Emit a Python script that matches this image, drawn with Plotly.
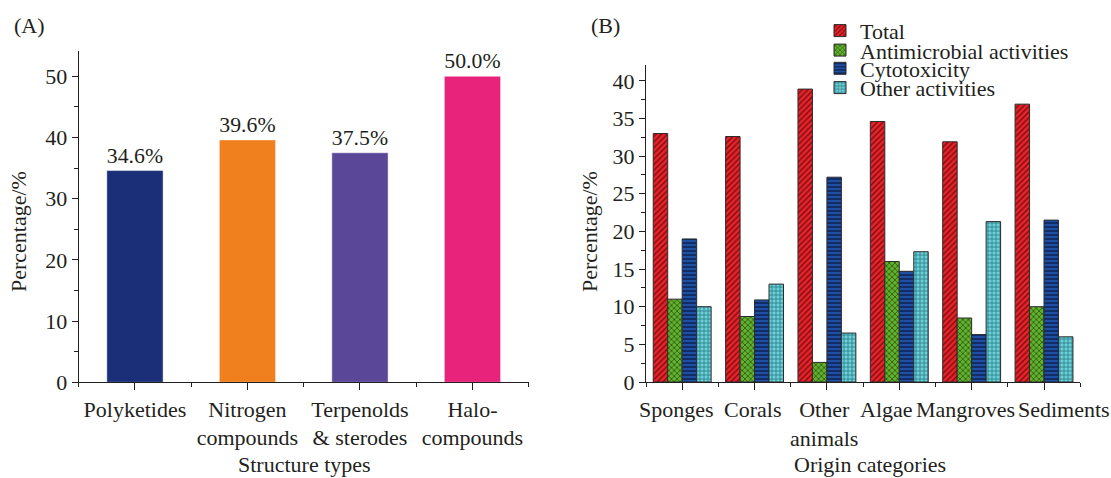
import plotly.graph_objects as go

# ---------------- data ----------------
categories_A = ["Polyketides", "Nitrogen<br>compounds", "Terpenolds<br>& sterodes", "Halo-<br>compounds"]
values_A = [34.6, 39.6, 37.5, 50.0]
colors_A = ["#1b2e78", "#f07f1e", "#5b4798", "#e8237b"]

categories_B = ["Sponges", "Corals", "Other<br>animals", "Algae", "Mangroves", "Sediments"]
total_B = [33.0, 32.6, 38.9, 34.6, 31.9, 36.9]
antimicrobial_B = [11.0, 8.7, 2.6, 16.0, 8.5, 10.0]
cytotoxicity_B = [19.0, 10.9, 27.2, 14.7, 6.3, 21.5]
other_B = [10.0, 13.0, 6.5, 17.3, 21.3, 6.0]

yticks_A = [0, 10, 20, 30, 40, 50]
yticks_B = [0, 5, 10, 15, 20, 25, 30, 35, 40]

# ---------------- style ----------------
INK = "#231f20"
FONT = "Liberation Serif"
FS = 22
W, H = 1111, 478
label_shift_B = [-6, -2, -3, -13, -6, 20]  # px nudges of category labels (as in the original)


def fx(p):
    return p / W


def fy(p):
    return 1 - p / H


xA = list(range(len(categories_A)))
xB = list(range(len(categories_B)))

fig = go.Figure()

fig.add_trace(go.Bar(
    x=xA, y=values_A, width=0.5, xaxis="x", yaxis="y",
    marker=dict(color=colors_A, line=dict(color="rgba(255,255,255,0.45)", width=1)),
    text=[f"{v:.1f}%" for v in values_A], textposition="outside",
    textfont=dict(family=FONT, size=FS, color=INK), cliponaxis=False,
    showlegend=False,
))

series_B = [
    ("Total", total_B, "#e8232a", "#7a0d10", "/", "legend"),
    ("Antimicrobial activities", antimicrobial_B, "#62b22f", "#24500c", "x", "legend2"),
    ("Cytotoxicity", cytotoxicity_B, "#1f4fa3", "#0b1d4d", "-", "legend3"),
    ("Other activities", other_B, "#6dd0d8", "#247a84", "+", "legend4"),
]
for name, vals, bg, fg, shape, leg in series_B:
    fig.add_trace(go.Bar(
        x=xB, y=vals, name=name, xaxis="x2", yaxis="y2", legend=leg,
        marker=dict(color=bg, line=dict(color="#2b2b2b", width=1),
                    pattern=dict(shape=shape, fgcolor=fg, bgcolor=bg,
                                 size=4, solidity=0.35, fillmode="replace")),
    ))

axis_common = dict(showline=True, linecolor=INK, linewidth=1.3, showgrid=False,
                   zeroline=False, ticks="outside", tickcolor=INK, tickwidth=1.3,
                   tickfont=dict(family=FONT, size=FS, color=INK))

fig.update_layout(
    width=W, height=H,
    margin=dict(l=0, r=0, t=0, b=0),
    paper_bgcolor="white", plot_bgcolor="white",
    template="none",
    font=dict(family=FONT, size=FS, color=INK),
    barmode="group", bargap=0.2, bargroupgap=0,
    xaxis=dict(domain=[fx(78.7), fx(528.7)], range=[-0.5, len(categories_A) - 0.5],
               tickmode="array", tickvals=xA, ticktext=categories_A, ticklen=7, tickangle=0,
               minor=dict(tickmode="array", tickvals=[i - 0.5 for i in range(len(categories_A) + 1)],
                          ticks="outside", ticklen=4, tickcolor=INK, tickwidth=1.3),
               anchor="y", **axis_common),
    yaxis=dict(domain=[fy(382.3), fy(51.2)], range=[0, 54.1], tickmode="array", tickvals=yticks_A,
               ticklen=6, minor=dict(tickmode="linear", tick0=0, dtick=5, ticks="outside",
                                     ticklen=4, tickcolor=INK, tickwidth=1.3),
               anchor="x", **axis_common),
    xaxis2=dict(domain=[fx(646), fx(1080.2)], range=[-0.5, len(categories_B) - 0.5],
                tickmode="array", tickvals=xB, ticktext=categories_B, ticklen=7,
                showticklabels=False,
                minor=dict(tickmode="array", tickvals=[i - 0.5 for i in range(len(categories_B) + 1)],
                           ticks="outside", ticklen=4, tickcolor=INK, tickwidth=1.3),
                anchor="y2", **axis_common),
    yaxis2=dict(domain=[fy(382), fy(65)], range=[0, 42.1], tickmode="array", tickvals=yticks_B,
                ticklen=6, minor=dict(tickmode="linear", tick0=0, dtick=2.5, ticks="outside",
                                      ticklen=4, tickcolor=INK, tickwidth=1.3),
                anchor="x2", **axis_common),
)

leg_common = dict(x=fx(820), xanchor="left", yanchor="middle", bgcolor="rgba(0,0,0,0)",
                  borderwidth=0, font=dict(family=FONT, size=FS, color=INK))
fig.update_layout(
    legend=dict(y=fy(30.8), **leg_common),
    legend2=dict(y=fy(50.3), **leg_common),
    legend3=dict(y=fy(68.5), **leg_common),
    legend4=dict(y=fy(87.8), **leg_common),
)

annotations = [
    dict(text="(A)", x=fx(12), y=fy(25), xanchor="left", yanchor="middle"),
    dict(text="(B)", x=fx(589), y=fy(25), xanchor="left", yanchor="middle"),
    dict(text="Structure types", x=fx(304), y=fy(464), xanchor="center", yanchor="middle"),
    dict(text="Origin categories", x=fx(870), y=fy(464), xanchor="center", yanchor="middle"),
    dict(text="Percentage/%", x=fx(19), y=fy(232), textangle=-90,
         xanchor="center", yanchor="middle"),
    dict(text="Percentage/%", x=fx(590), y=fy(232), textangle=-90,
         xanchor="center", yanchor="middle"),
]
for a in annotations:
    a.update(xref="paper", yref="paper")

# category labels of panel B, placed through the x2 axis scale
for xi, lab, sh in zip(xB, categories_B, label_shift_B):
    annotations.append(dict(text=lab, x=xi, xref="x2", xshift=sh, y=fy(395), yref="paper",
                            xanchor="center", yanchor="top", align="center"))

for a in annotations:
    a.update(showarrow=False, font=dict(family=FONT, size=FS, color=INK))
fig.update_layout(annotations=annotations)

fig.write_html("out.html", config={"displayModeBar": False},
               post_script="document.body.style.margin='0';document.body.style.overflow='hidden';")
